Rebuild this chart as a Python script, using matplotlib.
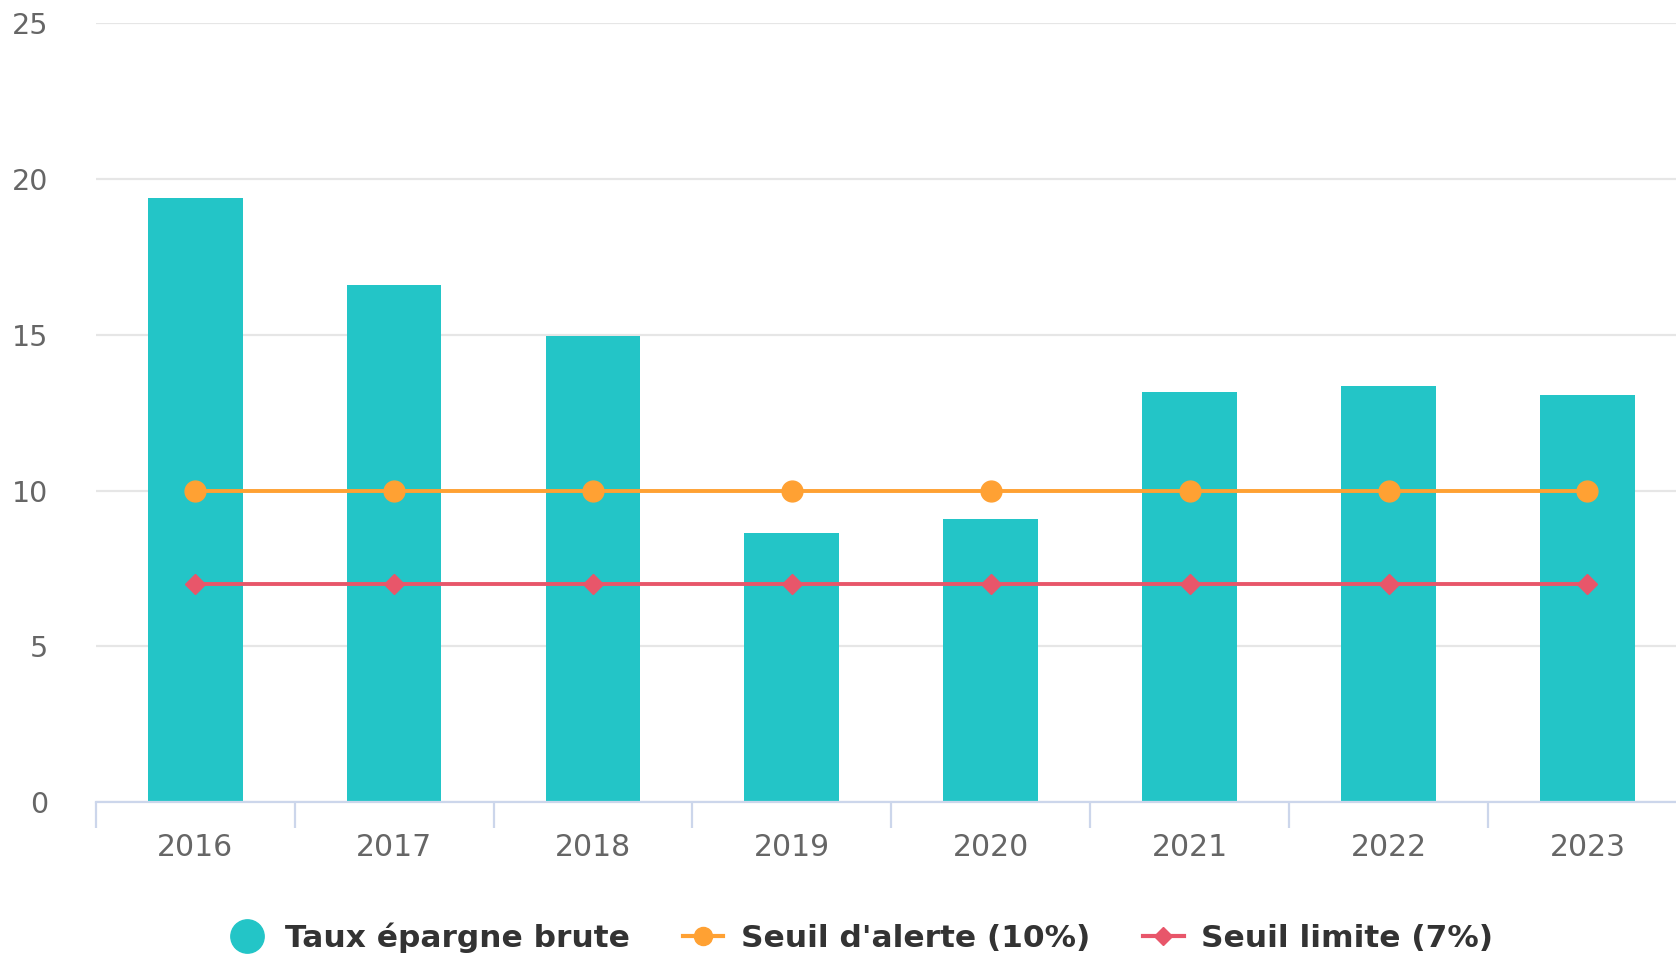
import numpy as np
import matplotlib.pyplot as plt
from matplotlib.lines import Line2D

# Données
annees = ['2016', '2017', '2018', '2019', '2020', '2021', '2022', '2023']
taux_epargne = [19.4, 16.6, 14.95, 8.65, 9.1, 13.17, 13.36, 13.07]
seuil_alerte = [10, 10, 10, 10, 10, 10, 10, 10]
seuil_limite = [7, 7, 7, 7, 7, 7, 7, 7]

c_barre = '#23c5c7'
c_alerte = '#ffa133'
c_limite = '#e8566a'

plt.rcParams['font.family'] = ['DejaVu Sans']

fig = plt.figure(figsize=(16.76, 9.59), dpi=100)
ax = fig.add_axes([0.0571, 0.1637, 1 - 0.0571, 0.9755 - 0.1637])

x = np.arange(len(annees))
ax.bar(x, taux_epargne, width=0.477, color=c_barre, zorder=2)
ax.plot(x, seuil_alerte, color=c_alerte, lw=2.8, marker='o', ms=15, zorder=3)
ax.plot(x, seuil_limite, color=c_limite, lw=2.8, marker='D', ms=10, zorder=3)

ax.set_yticks([0, 5, 10, 15, 20, 25])
ax.yaxis.grid(True, color='#e6e6e6', lw=1.6, zorder=0)
ax.tick_params(axis='y', length=0, pad=34, labelsize=20.5, labelcolor='#666666')

# séparateurs de catégories en ticks majeurs, libellés au centre
ax.set_xticks(np.arange(-0.5, 8, 1))
ax.set_xticklabels([])
ax.set_xticks(x, minor=True)
ax.set_xticklabels(annees, minor=True)
ax.tick_params(axis='x', which='major', length=19, width=1.6, color='#ccd6eb')
ax.tick_params(axis='x', which='minor', length=0, pad=22, labelsize=21.5, labelcolor='#666666')

# limites fixées après les ticks (set_xticks élargit la vue)
ax.set_xlim(-0.5, 7.445)
ax.set_ylim(0, 25)

for s in ['top', 'right', 'left']:
    ax.spines[s].set_visible(False)
ax.spines['bottom'].set_color('#ccd6eb')
ax.spines['bottom'].set_linewidth(1.6)

handles = [
    Line2D([], [], ls='none', marker='o', ms=24, color=c_barre),
    Line2D([], [], color=c_alerte, lw=3, marker='o', ms=13),
    Line2D([], [], color=c_limite, lw=3, marker='D', ms=9),
]
labels = ['Taux épargne brute', "Seuil d'alerte (10%)", 'Seuil limite (7%)']
fig.legend(handles, labels, loc='center', bbox_to_anchor=(0.513, 0.022), ncol=3,
           frameon=False, handlelength=1.3, handletextpad=0.55, columnspacing=1.7,
           prop={'size': 22.5, 'weight': 'bold'}, labelcolor='#333333')

fig.savefig('out.png', dpi=100)
